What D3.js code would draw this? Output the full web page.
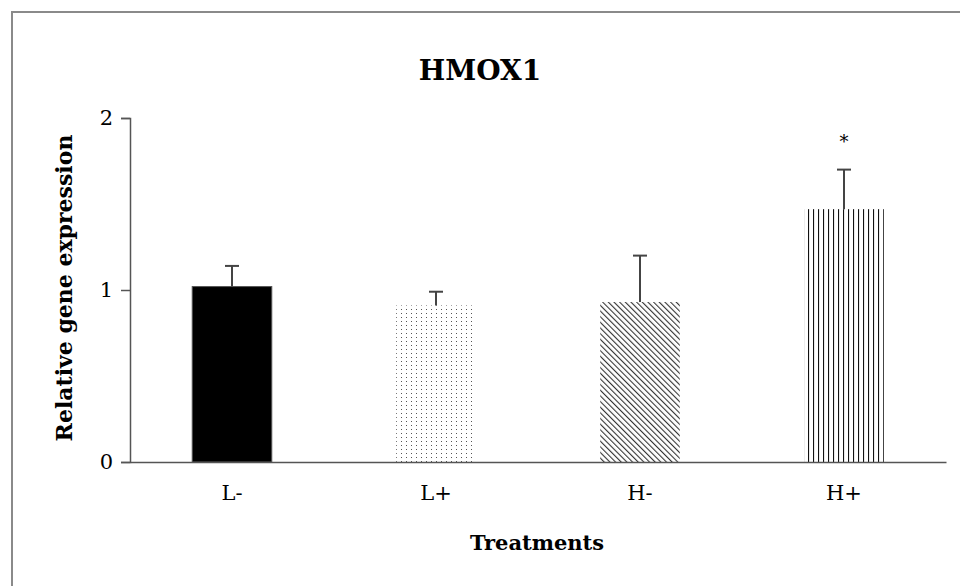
<!DOCTYPE html>
<html>
<head>
<meta charset="utf-8">
<script src="https://cdn.jsdelivr.net/npm/d3@7.9.0/dist/d3.min.js"></script>
<style>
  html, body { margin: 0; padding: 0; background: #fff; }
  svg { display: block; }
  text { font-family: "DejaVu Serif", "Liberation Serif", serif; fill: #000; }
</style>
</head>
<body>
<svg id="chart" width="960" height="586"></svg>
<script>
const categories = ['L-', 'L+', 'H-', 'H+'];
const means = [1.02, 0.91, 0.93, 1.47];
const errors = [0.12, 0.08, 0.27, 0.23];
const marks = ['', '', '', '*'];
const yTicks = [0, 1, 2];
const fills = ['#000', 'url(#dots)', 'url(#diag)', 'url(#vert)'];

const svg = d3.select('#chart');

// frame around the figure
svg.append('rect')
    .attr('x', 12).attr('y', 12)
    .attr('width', 960).attr('height', 600)
    .attr('fill', 'none')
    .attr('stroke', '#8a8a8a')
    .attr('stroke-width', 2);

// patterns
const defs = svg.append('defs');

let dots = defs.append('pattern')
    .attr('id', 'dots').attr('patternUnits', 'userSpaceOnUse')
    .attr('width', 5).attr('height', 4);
dots.append('rect').attr('x', 1).attr('y', 1).attr('width', 1).attr('height', 1).attr('fill', '#555');

let diag = defs.append('pattern')
    .attr('id', 'diag').attr('patternUnits', 'userSpaceOnUse')
    .attr('width', 4).attr('height', 4)
    .attr('patternTransform', 'rotate(-45)');
diag.append('rect').attr('width', 4).attr('height', 4).attr('fill', '#fff');
diag.append('line').attr('x1', 0).attr('y1', 0).attr('x2', 0).attr('y2', 4)
    .attr('stroke', '#333').attr('stroke-width', 2.2);

let vert = defs.append('pattern')
    .attr('id', 'vert').attr('patternUnits', 'userSpaceOnUse')
    .attr('width', 5).attr('height', 10).attr('x', 808);
vert.append('line').attr('x1', 0.5).attr('y1', 0).attr('x2', 0.5).attr('y2', 10)
    .attr('stroke', '#111').attr('stroke-width', 1.2);

const x = d3.scaleBand()
    .domain(categories)
    .range([130, 946])
    .paddingInner(0.61)
    .paddingOuter(0.305);

const y = d3.scaleLinear()
    .domain([0, 2])
    .range([462, 118]);

// title
svg.append('text')
    .attr('x', 480).attr('y', 80)
    .attr('text-anchor', 'middle')
    .attr('font-size', 28)
    .attr('font-weight', 'bold')
    .text('HMOX1');

// bars
svg.selectAll('rect.bar')
    .data(categories)
    .join('rect')
    .attr('class', 'bar')
    .attr('x', (d) => x(d))
    .attr('y', (d, i) => y(means[i]))
    .attr('width', x.bandwidth())
    .attr('height', (d, i) => y(0) - y(means[i]))
    .attr('fill', (d, i) => fills[i])
    .attr('stroke', (d, i) => (i === 0 ? '#555' : 'none'))
    .attr('stroke-width', 1);

// error bars (upper only)
categories.forEach((c, i) => {
    let cx = x(c) + x.bandwidth() / 2;
    let top = y(means[i] + errors[i]);
    svg.append('line')
        .attr('x1', cx).attr('x2', cx)
        .attr('y1', y(means[i])).attr('y2', top)
        .attr('stroke', '#444').attr('stroke-width', 2);
    svg.append('line')
        .attr('x1', cx - 7).attr('x2', cx + 7)
        .attr('y1', top).attr('y2', top)
        .attr('stroke', '#444').attr('stroke-width', 2);
    if (marks[i]) {
        svg.append('text')
            .attr('x', cx).attr('y', top - 22)
            .attr('text-anchor', 'middle')
            .attr('font-size', 18)
            .text(marks[i]);
    }
});

// y axis
const yAxis = svg.append('g')
    .attr('transform', 'translate(130,0)')
    .call(d3.axisLeft(y).tickValues(yTicks).tickFormat(d3.format('d')).tickSize(9).tickPadding(8));
yAxis.select('.domain').attr('stroke', '#555').attr('stroke-width', 1.5);
yAxis.selectAll('.tick line').attr('stroke', '#555').attr('stroke-width', 1.5);
yAxis.selectAll('.tick text')
    .attr('font-size', 21)
    .attr('font-family', '"DejaVu Serif", serif')
    .attr('fill', '#000');

// x axis
const xAxis = svg.append('g')
    .attr('transform', `translate(0,${y(0)})`)
    .call(d3.axisBottom(x).tickSize(0).tickPadding(23));
xAxis.select('.domain').attr('stroke', '#555').attr('stroke-width', 1.5);
xAxis.selectAll('.tick text')
    .attr('font-size', 21)
    .attr('font-family', '"DejaVu Serif", serif')
    .attr('fill', '#000');

// axis titles
svg.append('text')
    .attr('x', 537).attr('y', 550)
    .attr('text-anchor', 'middle')
    .attr('font-size', 21)
    .attr('font-weight', 'bold')
    .text('Treatments');

svg.append('text')
    .attr('transform', 'translate(72,288) rotate(-90)')
    .attr('text-anchor', 'middle')
    .attr('font-size', 22)
    .attr('font-weight', 'bold')
    .text('Relative gene expression');
</script>
</body>
</html>
